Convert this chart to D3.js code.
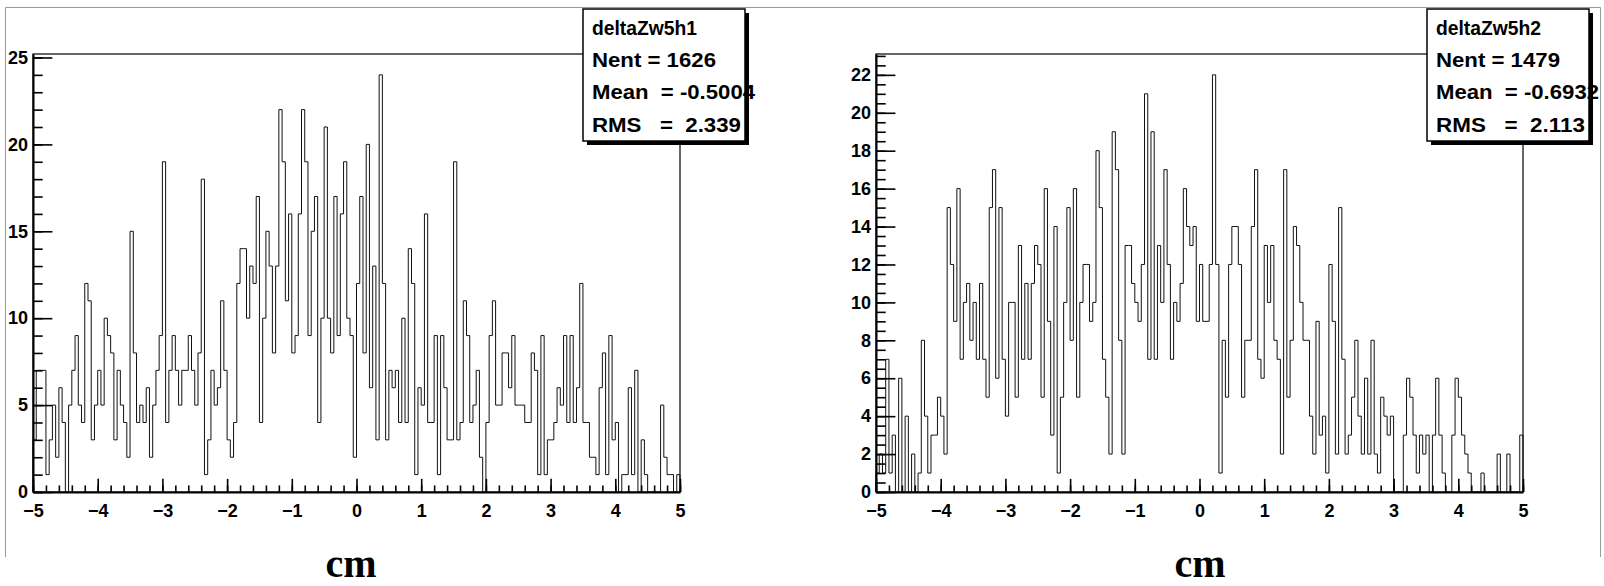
<!DOCTYPE html>
<html>
<head>
<meta charset="utf-8">
<script src="https://cdn.jsdelivr.net/npm/d3@7"></script>
<style>
  body { margin: 0; background: #fff; }
  svg { display: block; }
  .lbl { font-family: "Liberation Sans", Arial, sans-serif; font-weight: bold; font-size: 18px; fill: #000; }
  .stat { font-family: "Liberation Sans", Arial, sans-serif; font-weight: bold; font-size: 20px; fill: #000; white-space: pre; }
  .title { font-family: "Liberation Serif", "Times New Roman", serif; font-weight: bold; font-size: 40px; fill: #000; }
</style>
</head>
<body>
<svg id="chart" width="1604" height="586"></svg>
<script>
// --- DATA (bin contents, 200 bins from -5 to 5 cm) ---
const h1Counts = [
  3,7,7,7,1,3,5,2,6,4,
  0,5,7,9,5,4,12,11,3,5,
  7,5,10,9,8,3,7,5,4,2,
  15,8,4,5,4,6,2,5,7,9,
  19,4,7,9,7,5,7,7,9,7,
  5,8,18,1,3,7,5,6,11,7,
  3,2,4,12,14,14,10,13,12,17,
  4,10,15,13,8,13,22,19,11,16,
  8,9,16,22,19,9,15,17,4,10,
  21,10,8,17,9,16,19,10,9,2,
  12,17,8,20,6,13,3,24,12,3,
  7,6,7,4,10,4,14,12,1,6,
  5,16,4,4,9,1,9,6,3,3,
  19,3,4,11,9,4,5,7,2,0,
  4,9,11,5,5,8,8,6,9,5,
  5,5,4,4,8,7,1,9,1,3,
  3,4,6,5,9,4,9,4,6,12,
  4,4,2,2,1,6,8,1,9,3,
  4,0,1,1,6,1,7,0,3,1,
  0,0,0,0,5,2,1,1,0,1
];
const h2Counts = [
  1,2,1,7,1,3,0,6,0,4,
  0,2,0,1,8,4,1,3,3,5,
  4,2,15,12,9,16,7,10,11,8,
  10,7,11,7,5,15,17,6,15,7,
  4,10,10,5,13,7,11,7,11,13,
  12,5,16,9,3,14,1,5,10,15,
  8,16,5,10,12,12,9,10,18,15,
  7,5,2,19,17,8,2,13,13,11,
  10,9,12,21,7,19,7,13,10,17,
  12,7,10,9,11,16,14,13,14,9,
  12,9,9,12,22,12,1,8,5,12,
  14,14,12,5,8,8,14,17,7,6,
  13,10,13,8,7,2,17,5,8,14,
  13,10,8,8,4,2,9,3,4,1,
  12,9,2,15,7,2,3,5,8,4,
  2,6,2,8,2,1,5,4,3,4,
  0,0,0,3,6,5,3,1,3,2,
  3,0,3,6,3,1,0,0,3,6,
  5,3,2,1,0,0,0,1,0,0,
  0,0,2,0,0,2,0,0,0,3
];
const xRange = [-5, 5];
const xMajorTicks = [-5, -4, -3, -2, -1, 0, 1, 2, 3, 4, 5];
const h1YTicks = [0, 5, 10, 15, 20, 25];
const h2YTicks = [0, 2, 4, 6, 8, 10, 12, 14, 16, 18, 20, 22];
const h1Stats = ["deltaZw5h1", "Nent = 1626", "Mean  = -0.5004", "RMS   =  2.339"];
const h2Stats = ["deltaZw5h2", "Nent = 1479", "Mean  = -0.6932", "RMS   =  2.113"];
const xTitle = "cm";

// --- LAYOUT ---
const FRAME_TOP = 54, FRAME_BOTTOM = 492;
const panels = [
  { counts: h1Counts, yMax: 25.2, yTicks: h1YTicks, yMinorStep: 1, stats: h1Stats,
    left: 33, right: 680, titleX: 351, boxX: 583 },
  { counts: h2Counts, yMax: 23.1, yTicks: h2YTicks, yMinorStep: 0.5, stats: h2Stats,
    left: 876, right: 1523, titleX: 1200, boxX: 1427 }
];
const statWidths = [105, 124, 163, 149];
const statBaselines = [34.5, 67, 99, 131.5];

const svg = d3.select("#chart");

// pad border
svg.append("path")
  .attr("d", "M5.5,557 V7.5 H1600.5 V557")
  .attr("fill", "none").attr("stroke", "#999").attr("stroke-width", 1);

panels.forEach(p => {
  const nBins = p.counts.length;
  const binW = (xRange[1] - xRange[0]) / nBins;
  const x = d3.scaleLinear().domain(xRange).range([p.left, p.right]);
  const y = d3.scaleLinear().domain([0, p.yMax]).range([FRAME_BOTTOM, FRAME_TOP]);
  const fw = p.right - p.left, fh = FRAME_BOTTOM - FRAME_TOP;
  const g = svg.append("g");

  // frame
  g.append("rect")
    .attr("x", p.left).attr("y", FRAME_TOP).attr("width", fw).attr("height", fh)
    .attr("fill", "none").attr("stroke", "#000").attr("stroke-width", 1.2);

  // histogram outline
  const pts = [{ e: xRange[0], v: 0 }];
  p.counts.forEach((v, i) => pts.push({ e: xRange[0] + i * binW, v }));
  pts.push({ e: xRange[1], v: p.counts[nBins - 1] });
  pts.push({ e: xRange[1], v: 0 });
  const line = d3.line().x(d => x(d.e)).y(d => y(d.v)).curve(d3.curveStepAfter);
  g.append("path").datum(pts)
    .attr("d", line)
    .attr("fill", "none").attr("stroke", "#111").attr("stroke-width", 1);

  // x axis: minor then major ticks (pointing into the frame)
  const xMinor = g.append("g").attr("transform", `translate(0,${FRAME_BOTTOM})`)
    .call(d3.axisBottom(x).tickValues(d3.range(-5, 5.001, 0.2)).tickSize(-fh * 0.015).tickSizeOuter(0).tickFormat(""));
  xMinor.select(".domain").remove();
  const xAxis = g.append("g").attr("transform", `translate(0,${FRAME_BOTTOM})`)
    .call(d3.axisBottom(x).tickValues(xMajorTicks).tickSize(-fh * 0.03).tickSizeOuter(0).tickPadding(12).tickFormat(d3.format("d")));
  xAxis.selectAll("text").attr("class", "lbl").attr("font-size", null).attr("font-family", null);
  xAxis.select(".domain").attr("stroke-width", 2);

  // y axis
  const yMinor = g.append("g").attr("transform", `translate(${p.left},0)`)
    .call(d3.axisLeft(y).tickValues(d3.range(0, p.yMax, p.yMinorStep)).tickSize(-fw * 0.015).tickSizeOuter(0).tickFormat(""));
  yMinor.select(".domain").remove();
  const yAxis = g.append("g").attr("transform", `translate(${p.left},0)`)
    .call(d3.axisLeft(y).tickValues(p.yTicks).tickSize(-fw * 0.03).tickSizeOuter(0).tickPadding(5).tickFormat(d3.format("d")));
  yAxis.selectAll("text").attr("class", "lbl").attr("font-size", null).attr("font-family", null);
  yAxis.select(".domain").attr("stroke-width", 2);
  [xMinor, xAxis, yMinor, yAxis].forEach(a => a.selectAll("line").attr("stroke-width", 1.6));

  // axis title
  g.append("text").attr("class", "title")
    .attr("x", p.titleX).attr("y", 577).attr("text-anchor", "middle")
    .text(xTitle);

  // stats box with shadow
  const bw = 162, bh = 132, by = 9;
  g.append("rect").attr("x", p.boxX + 4).attr("y", by + 4).attr("width", bw).attr("height", bh).attr("fill", "#000");
  g.append("rect").attr("x", p.boxX).attr("y", by).attr("width", bw).attr("height", bh)
    .attr("fill", "#fff").attr("stroke", "#000").attr("stroke-width", 1.5);
  g.selectAll(".stat").data(p.stats).join("text")
    .attr("class", "stat")
    .attr("x", p.boxX + 9)
    .attr("y", (d, i) => statBaselines[i])
    .attr("textLength", (d, i) => statWidths[i])
    .attr("lengthAdjust", "spacingAndGlyphs")
    .text(d => d);
});
</script>
</body>
</html>
